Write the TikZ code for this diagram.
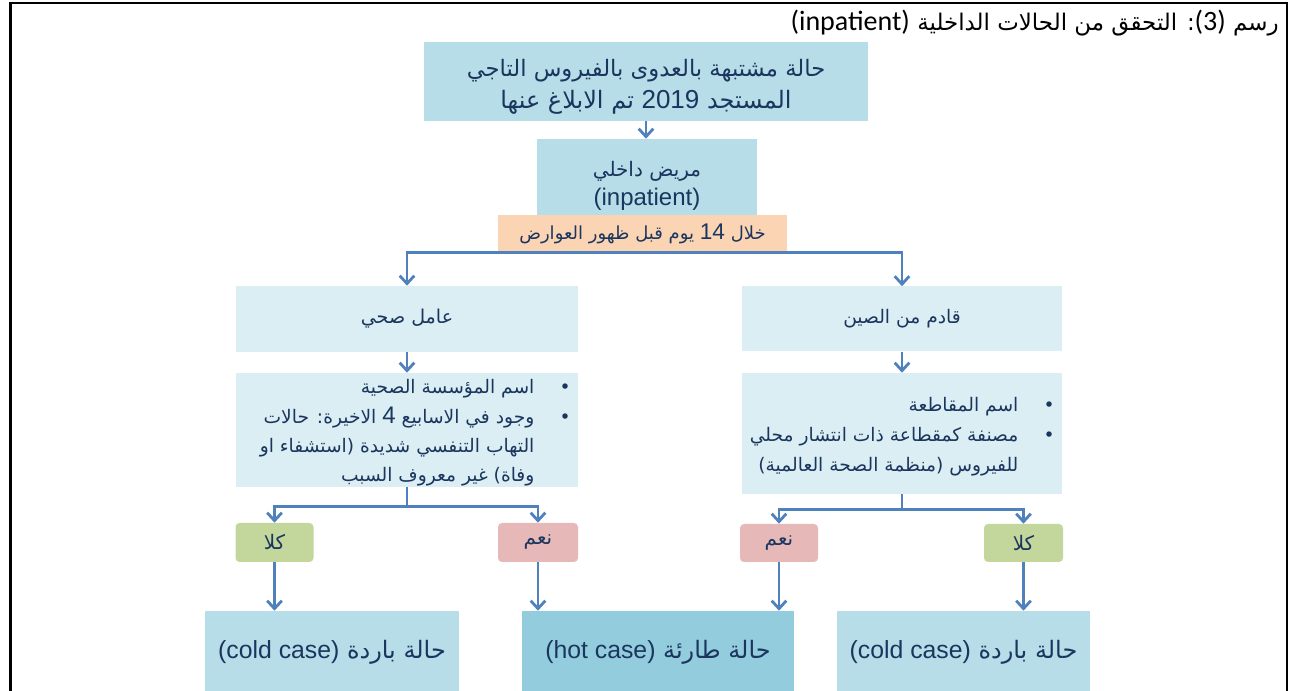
\documentclass[tikz,border=0pt]{standalone}
\usepackage{fontspec}
\usetikzlibrary{arrows.meta}
\TeXXeTstate=1
\newfontfamily\arfont[Script=Arabic]{DejaVu Sans}
\newfontfamily\latfont{Liberation Sans}
\newfontfamily\calfont{Carlito}
\definecolor{bA}{HTML}{B7DDE8}
\definecolor{bL}{HTML}{DBEEF4}
\definecolor{bH}{HTML}{93CDDD}
\definecolor{orng}{HTML}{FBD4B4}
\definecolor{grn}{HTML}{C3D69B}
\definecolor{pnk}{HTML}{E6B9B8}
\definecolor{arrc}{HTML}{4F81BD}
\definecolor{txt}{HTML}{1B365E}
\begin{document}
\begin{tikzpicture}[x=0.75pt,y=-0.75pt,
  box/.style={fill=#1, draw=none, text=txt, align=center, inner sep=0pt},
  wh/.style 2 args={minimum width=#1*0.75pt, minimum height=#2*0.75pt},
  txtn/.style={text=txt, align=center, inner sep=0pt},
  small/.style={fill=#1, draw=none, text=txt, rounded corners=3pt, inner sep=0pt, font=\arfont\fontsize{15}{18}\selectfont},
  arr/.style={draw=arrc, line width=2.1pt, -{Straight Barb[length=6pt,width=11pt]}},
  frame/.style={draw=black, line width=1.75pt}]
\useasboundingbox (0,0) rectangle (1290,691);
\clip (0,0) rectangle (1290,691);
% frame
\draw[frame] (10.5,700) -- (10.5,3) -- (1287,3) -- (1287,700);
% title
\node[anchor=east, inner sep=0pt, font=\arfont\fontsize{17.2}{20}\selectfont] (title) at (1279,23)
  {\beginR رسم {\calfont\fontsize{21}{24}\selectfont\beginL(3)\endL}: التحقق من الحالات الداخلية {\calfont\fontsize{21}{24}\selectfont\beginL(inpatient)\endL}\endR};
% main boxes
\node[box=bA, wh={444}{79}] (top) at (646,81.5) {};
\node[txtn, font=\arfont\fontsize{17}{24}\selectfont] (toptxt) at (646,86.5)
  {\beginR حالة مشتبهة بالعدوى بالفيروس التاجي\endR\\\fontsize{18}{24}\selectfont\beginR المستجد {\latfont\fontsize{19.5}{24}\selectfont 2019} تم الابلاغ عنها\endR};
\node[box=bA, wh={220}{86}] (inp) at (647,182) {};
\node[txtn, font=\arfont\fontsize{15}{22}\selectfont] (inptxt) at (647,186)
  {\beginR مريض داخلي\endR\\{\latfont\fontsize{18}{22}\selectfont (inpatient)}};
\node[box=orng, wh={289}{37}, font=\arfont\fontsize{13.5}{18}\selectfont] (ob) at (642.5,233.5)
  {\beginR خلال {\latfont\fontsize{17}{18}\selectfont 14} يوم قبل ظهور العوارض\endR};
\node[box=bL, wh={342}{66}, font=\arfont\fontsize{14.3}{18}\selectfont] (hw) at (407,319)
  {\beginR عامل صحي\endR};
\node[box=bL, wh={320}{65}, font=\arfont\fontsize{14}{18}\selectfont] (cn) at (902,319)
  {\beginR قادم من الصين\endR};
\node[box=bL, wh={342}{114}] (hwl) at (407,430) {};
\node[txtn, anchor=east, font=\arfont\fontsize{14}{22}\selectfont] (hwltxt) at (571,432)
  {\begin{tabular}{@{}r@{\hspace{19pt}}c@{}}
   \beginR اسم المؤسسة الصحية\endR & • \\
   \beginR وجود في الاسابيع {\latfont\fontsize{18}{22}\selectfont 4} الاخيرة\beginL:\endL{} حالات\endR & • \\
   \beginR التهاب التنفسي شديدة \beginL(\endL استشفاء او\endR & \\
   \beginR وفاة\beginL)\endL{} غير معروف السبب\endR &
   \end{tabular}};
\node[box=bL, wh={320}{121}] (cnl) at (902,433.5) {};
\node[txtn, anchor=east, font=\arfont\fontsize{14}{22.5}\selectfont] (cnltxt) at (1055,436)
  {\begin{tabular}{@{}r@{\hspace{19pt}}c@{}}
   \beginR اسم المقاطعة\endR & • \\
   \beginR مصنفة كمقطاعة ذات انتشار محلي\endR & • \\
   \beginR للفيروس \beginL(\endL منظمة الصحة العالمية\beginL)\endL\endR &
   \end{tabular}};
% yes / no
\node[small=grn, wh={78}{39}] (nol) at (274.5,542.5) {\beginR كلا\endR};
\node[small=pnk, wh={80}{39}] (yesl) at (538,542.5) {\beginR نعم\endR};
\node[small=pnk, wh={78}{38}] (yesr) at (779,543) {\beginR نعم\endR};
\node[small=grn, wh={79}{38}] (nor) at (1023.5,543) {\beginR كلا\endR};
% outcomes
\node[box=bA, wh={254}{82}, font=\arfont\fontsize{18}{22}\selectfont] (cl) at (332,652)
  {\beginR حالة باردة {\latfont\fontsize{18.6}{22}\selectfont\beginL(cold case)\endL}\endR};
\node[box=bH, wh={272}{82}, font=\arfont\fontsize{18}{22}\selectfont] (hot) at (658,652)
  {\beginR حالة طارئة {\latfont\fontsize{18.6}{22}\selectfont\beginL(hot case)\endL}\endR};
\node[box=bA, wh={253}{82}, font=\arfont\fontsize{18}{22}\selectfont] (cr) at (963.5,652)
  {\beginR حالة باردة {\latfont\fontsize{18.6}{22}\selectfont\beginL(cold case)\endL}\endR};
% connectors
\draw[arr] (top.south) -- (top.south |- inp.north);
\draw[arr] (ob.south) -| (hw.north);
\draw[arr] (ob.south) -| (cn.north);
\draw[arr] (hw.south) -- (hwl.north);
\draw[arr] (cn.south) -- (cnl.north);
\draw[arr] (hwl.south) -- ++(0,19) -| (nol.north);
\draw[arr] (hwl.south) -- ++(0,19) -| (yesl.north);
\draw[arr] (cnl.south) -- ++(0,15) -| (yesr.north);
\draw[arr] (cnl.south) -- ++(0,15) -| (nor.north);
\draw[arr] (nol.south) -- (nol.south |- cl.north);
\draw[arr] (yesl.south) -- (yesl.south |- hot.north);
\draw[arr] (yesr.south) -- (yesr.south |- hot.north);
\draw[arr] (nor.south) -- (nor.south |- cr.north);
\end{tikzpicture}
\end{document}
